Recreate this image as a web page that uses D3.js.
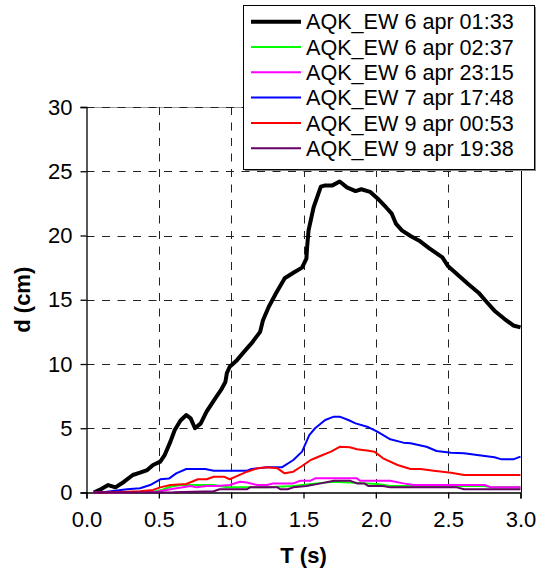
<!DOCTYPE html>
<html>
<head>
<meta charset="utf-8">
<script src="https://cdn.jsdelivr.net/npm/d3@7"></script>
<style>
  body { margin: 0; background: #fff; }
  svg { display: block; font-family: "Liberation Sans", Arial, sans-serif; }
</style>
</head>
<body>
<div class="main"></div>
<script>
// series names / colours (legend order)
const names = ["AQK_EW 6 apr 01:33", "AQK_EW 6 apr 02:37", "AQK_EW 6 apr 23:15",
               "AQK_EW 7 apr 17:48", "AQK_EW 9 apr 00:53", "AQK_EW 9 apr 19:38"];
const colors = ["#000000", "#00ff00", "#ff00ff", "#0000ff", "#ff0000", "#660066"];

const xTicks = [0, 0.5, 1, 1.5, 2, 2.5, 3];
const yTicks = [0, 5, 10, 15, 20, 25, 30];

// [T (s), d (cm)]
const s0133 = [[0.05,0],[0.09,0.2],[0.15,0.58],[0.2,0.4],[0.26,0.84],[0.32,1.36],[0.37,1.54],[0.42,1.75],
  [0.46,2.14],[0.51,2.4],[0.54,2.9],[0.58,3.96],[0.61,4.86],[0.65,5.6],[0.69,6.03],[0.72,5.77],[0.75,5.0],
  [0.79,5.38],[0.83,6.3],[0.89,7.33],[0.93,7.98],[0.96,8.6],[0.97,9.28],[0.99,9.79],[1.04,10.3],[1.09,10.96],
  [1.14,11.6],[1.2,12.5],[1.22,13.4],[1.26,14.46],[1.31,15.5],[1.37,16.67],[1.43,17.1],[1.49,17.5],[1.52,18.2],
  [1.525,19.1],[1.535,20.4],[1.57,22.2],[1.62,23.8],[1.65,23.9],[1.7,23.9],[1.75,24.2],[1.8,23.75],[1.86,23.46],
  [1.9,23.6],[1.96,23.4],[2.01,22.9],[2.07,22.2],[2.11,21.7],[2.14,20.9],[2.18,20.4],[2.24,19.96],[2.3,19.6],
  [2.37,19.0],[2.46,18.3],[2.5,17.6],[2.57,16.9],[2.64,16.2],[2.71,15.55],[2.76,14.9],[2.82,14.15],[2.89,13.5],
  [2.95,13.0],[3.0,12.85]];
const s0237 = [[0.05,0],[0.45,0.05],[0.52,0.2],[0.58,0.45],[0.65,0.58],[0.88,0.58],[0.95,0.45],[0.99,0.4],
  [1.25,0.4],[1.43,0.5],[1.59,0.71],[1.71,0.84],[1.82,0.78],[1.94,0.71],[2.01,0.66],[2.1,0.5],[2.75,0.5],
  [2.8,0.4],[3.0,0.4]];
const s2315 = [[0.05,0],[0.2,0],[0.49,0.06],[0.58,0.25],[0.72,0.5],[0.76,0.4],[0.83,0.5],[0.9,0.5],[0.99,0.58],
  [1.06,0.84],[1.11,0.78],[1.18,0.58],[1.25,0.58],[1.29,0.71],[1.43,0.71],[1.48,0.92],[1.55,0.92],[1.58,1.1],
  [1.87,1.1],[1.89,0.92],[2.1,0.92],[2.19,0.71],[2.26,0.58],[2.75,0.58],[2.8,0.4],[3.0,0.4]];
const s1748 = [[0.05,0],[0.1,0],[0.28,0.25],[0.37,0.33],[0.44,0.58],[0.51,1.03],[0.57,1.08],[0.62,1.49],
  [0.69,1.83],[0.82,1.83],[0.88,1.7],[1.11,1.7],[1.14,1.83],[1.25,1.96],[1.35,1.96],[1.43,2.53],[1.49,3.18],
  [1.54,4.47],[1.58,5.0],[1.65,5.64],[1.71,5.9],[1.75,5.9],[1.81,5.64],[1.86,5.38],[1.94,5.12],[2.01,4.73],
  [2.1,4.14],[2.19,3.88],[2.24,3.83],[2.35,3.56],[2.42,3.23],[2.52,3.1],[2.61,3.05],[2.7,2.92],[2.82,2.74],
  [2.87,2.58],[2.95,2.58],[3.0,2.79]];
const s0053 = [[0.05,0],[0.14,0],[0.37,0.1],[0.46,0.2],[0.51,0.4],[0.58,0.58],[0.69,0.66],[0.77,1.03],
  [0.83,1.03],[0.88,1.23],[0.95,1.23],[0.99,1.03],[1.04,1.28],[1.11,1.62],[1.18,1.88],[1.25,1.96],[1.32,1.88],
  [1.37,1.49],[1.43,1.62],[1.49,2.06],[1.55,2.53],[1.62,2.86],[1.69,3.18],[1.75,3.56],[1.82,3.52],[1.87,3.36],
  [1.95,3.25],[1.99,3.18],[2.05,2.66],[2.15,2.14],[2.24,1.83],[2.31,1.83],[2.4,1.7],[2.52,1.54],[2.61,1.36],
  [3.0,1.36]];
const s1938 = [[0.05,0],[0.6,0.02],[0.88,0.1],[0.92,0.25],[1.11,0.25],[1.13,0.4],[1.32,0.4],[1.34,0.25],
  [1.39,0.25],[1.43,0.4],[1.52,0.5],[1.62,0.71],[1.71,0.92],[1.82,0.92],[1.87,0.71],[1.92,0.71],[1.95,0.5],
  [2.05,0.5],[2.1,0.4],[2.56,0.4],[2.61,0.25],[3.0,0.25]];

const series = [s0133, s0237, s2315, s1748, s0053, s1938];

let width = 540, height = 579;
let svg = d3.select("div.main").append("svg")
  .attr("width", width)
  .attr("height", height);

let mLeft = 86.5, mRight = 520.5, mTop = 107, mBottom = 492.5;

let x = d3.scaleLinear().domain([0, 3]).range([mLeft, mRight]);
let y = d3.scaleLinear().domain([0, 30]).range([mBottom, mTop]);

// plot area top border (light), gridlines drawn over it
svg.append("line")
  .attr("x1", mLeft).attr("x2", mRight)
  .attr("y1", Math.round(y(30)) + 0.5).attr("y2", Math.round(y(30)) + 0.5)
  .attr("stroke", "#999");

// dashed grid
svg.append("g").selectAll("line")
  .data(yTicks.filter(d => d > 0))
  .enter().append("line")
  .attr("x1", mLeft).attr("x2", mRight)
  .attr("y1", d => Math.round(y(d)) + 0.5).attr("y2", d => Math.round(y(d)) + 0.5)
  .attr("stroke", "#222").attr("stroke-dasharray", "8,7.5");

svg.append("g").selectAll("line")
  .data(xTicks.filter(d => d > 0 && d < 3))
  .enter().append("line")
  .attr("y1", mTop).attr("y2", mBottom)
  .attr("x1", d => Math.round(x(d)) + 0.5).attr("x2", d => Math.round(x(d)) + 0.5)
  .attr("stroke", "#222").attr("stroke-dasharray", "8,7.5");

// right border
svg.append("line")
  .attr("x1", Math.round(mRight) + 0.5).attr("x2", Math.round(mRight) + 0.5)
  .attr("y1", mTop).attr("y2", mBottom)
  .attr("stroke", "#000");

// axes
let xAxis = d3.axisBottom(x).tickValues(xTicks).tickFormat(d3.format(".1f")).tickSizeOuter(0).tickSize(6).tickPadding(8);
let yAxis = d3.axisLeft(y).tickValues(yTicks).tickSizeOuter(0).tickSize(6).tickPadding(8);

let gx = svg.append("g").attr("transform", "translate(0," + mBottom + ")").call(xAxis);
let gy = svg.append("g").attr("transform", "translate(" + mLeft + ",0)").call(yAxis);
[gx, gy].forEach(function(g) {
  g.selectAll("text").attr("font-size", "22px").attr("font-family", "Liberation Sans, Arial, sans-serif").attr("fill", "#000");
  g.selectAll("path, line").attr("stroke", "#000").attr("stroke-width", 1.3);
});
gx.selectAll("text").attr("dy", "0.95em");

// lines
let line = d3.line().x(d => x(d[0])).y(d => y(d[1]));

svg.append("defs").append("clipPath").attr("id", "clip")
  .append("rect").attr("x", mLeft).attr("y", mTop - 2).attr("width", mRight - mLeft + 2).attr("height", mBottom - mTop + 4);

let plot = svg.append("g").attr("clip-path", "url(#clip)");
series.forEach(function(s, i) {
  plot.append("path")
    .datum(s)
    .attr("d", line)
    .attr("fill", "none")
    .attr("stroke", colors[i])
    .attr("stroke-width", i == 0 ? 4 : 2)
    .attr("stroke-linejoin", "round");
});

// axis titles
svg.append("text")
  .text("T (s)")
  .attr("x", (mLeft + mRight) / 2)
  .attr("y", 563)
  .attr("text-anchor", "middle")
  .attr("font-size", "22px")
  .attr("font-weight", "bold");

svg.append("text")
  .text("d (cm)")
  .attr("transform", "translate(30," + (mBottom + mTop) / 2 + ")rotate(-90)")
  .attr("text-anchor", "middle")
  .attr("font-size", "22px")
  .attr("font-weight", "bold");

// legend
let lx = 243, ly = 5, lw = 291, lh = 164;
svg.append("rect")
  .attr("x", lx + 2).attr("y", ly + 2).attr("width", lw).attr("height", lh)
  .attr("fill", "#888");
svg.append("rect")
  .attr("x", lx + 0.5).attr("y", ly + 0.5).attr("width", lw).attr("height", lh)
  .attr("fill", "#fff").attr("stroke", "#000");

let legend = svg.append("g").selectAll("g")
  .data(names)
  .enter().append("g")
  .attr("transform", (d, i) => "translate(0," + (21.7 + i * 25.3) + ")");

legend.append("line")
  .attr("x1", 251).attr("x2", 301)
  .attr("stroke", (d, i) => colors[i])
  .attr("stroke-width", (d, i) => i == 0 ? 4 : 2);

legend.append("text")
  .text(d => d)
  .attr("x", 306)
  .attr("y", 7.7)
  .attr("font-size", "21.6px");
</script>
</body>
</html>
